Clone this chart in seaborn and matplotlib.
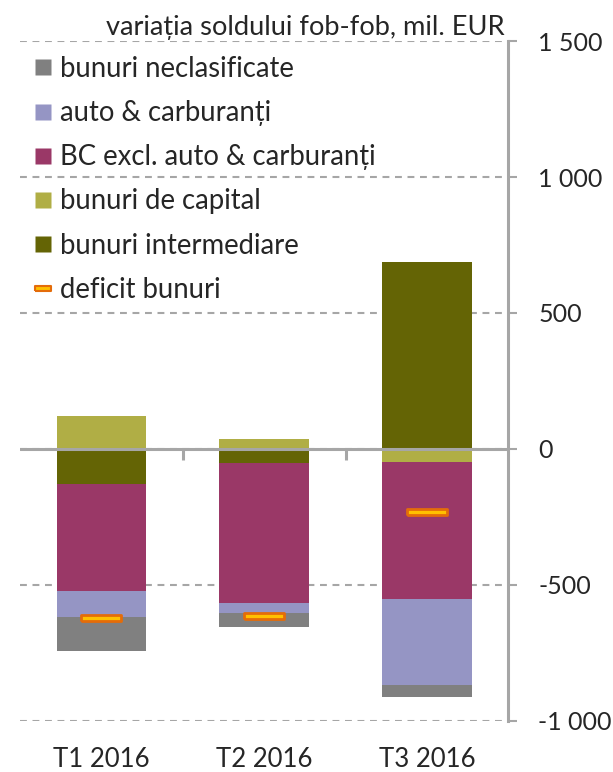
import numpy as np
import pandas as pd
import matplotlib.pyplot as plt
import seaborn as sns
from matplotlib.lines import Line2D
from matplotlib.ticker import FuncFormatter

# date (mil. EUR)
quarters = ["T1 2016", "T2 2016", "T3 2016"]
intermediare = [-129, -51, 687]
capital = [120, 38, -49]
bc_excl_auto = [-394, -517, -503]
auto_carburanti = [-96, -37, -317]
neclasificate = [-123, -49, -43]
deficit = [-621, -614, -231]

series_names = ["bunuri intermediare", "bunuri de capital",
                "BC excl. auto & carburanți", "auto & carburanți",
                "bunuri neclasificate"]
series_values = [intermediare, capital, bc_excl_auto, auto_carburanti, neclasificate]
colors = ["#646405", "#B0AE45", "#9A3867", "#9595C4", "#808080"]
legend_order = [4, 3, 2, 1, 0]
y_ticks = [-1000, -500, 0, 500, 1000, 1500]

sns.set_style("white")
plt.rcParams["font.family"] = ["Lato", "DejaVu Sans"]

grid_gray = "#A6A6A6"
fig = plt.figure(figsize=(6.13, 7.72), dpi=100)
ax = fig.add_axes([0.0326, 0.0665, 0.7966, 0.8801])

# stivuire separata pentru valori pozitive si negative
pos_base = np.zeros(len(quarters))
neg_base = np.zeros(len(quarters))
for name, vals, col in zip(series_names, series_values, colors):
    vals = np.array(vals, dtype=float)
    bottom = np.where(vals >= 0, pos_base, neg_base)
    df = pd.DataFrame({"trimestru": quarters, "valoare": vals})
    sns.barplot(data=df, x="trimestru", y="valoare", order=quarters, bottom=bottom,
                color=col, width=0.55, errorbar=None, linewidth=0, saturation=1,
                ax=ax, zorder=2)
    pos_base = np.where(vals >= 0, pos_base + vals, pos_base)
    neg_base = np.where(vals < 0, neg_base + vals, neg_base)

# deficitul de bunuri - marcaj dreptunghiular
rect = [(-1, -0.17), (1, -0.17), (1, 0.17), (-1, 0.17), (-1, -0.17)]
sns.scatterplot(x=np.arange(len(quarters)), y=deficit, marker=rect, s=841,
                color="#FFC000", edgecolor="#E46C0A", linewidth=2, zorder=5, ax=ax)

# axa zero si separatoarele de categorii
ax.axhline(0, color=grid_gray, lw=2.2, zorder=4)
ax.vlines([0.5, 1.5], -40, 0, color=grid_gray, lw=2.2, zorder=4)

ax.set_xlim(-0.5, 2.5)
ax.set_ylim(-1000, 1500)
ax.set_yticks(y_ticks)
ax.yaxis.set_major_formatter(FuncFormatter(lambda v, p: f"{v:,.0f}".replace(",", " ")))
ax.yaxis.tick_right()
ax.set_xlabel("")
ax.set_ylabel("")

ax.set_axisbelow(True)
ax.yaxis.grid(True, color=grid_gray, lw=1.5, ls=(0, (3.3, 2.7)))
ax.xaxis.grid(False)

for s in ["top", "left", "bottom"]:
    ax.spines[s].set_visible(False)
ax.spines["right"].set_color(grid_gray)
ax.spines["right"].set_linewidth(2.2)

ax.tick_params(axis="y", right=True, left=False, direction="out", length=6.5,
               width=1.5, color=grid_gray, pad=15, labelsize=18)
ax.tick_params(axis="x", length=0, pad=19, labelsize=18.5)

handles = [Line2D([], [], ls="none", marker="s", markersize=11.5, color=colors[i],
                  mec="none") for i in legend_order]
labels = [series_names[i] for i in legend_order]
handles.append(Line2D([], [], ls="none", marker=[(-1, -0.3), (1, -0.3), (1, 0.3), (-1, 0.3), (-1, -0.3)],
                      markersize=12, mfc="#FFC000", mec="#E46C0A", mew=1.5))
labels.append("deficit bunuri")
ax.legend(handles, labels, loc="upper left", bbox_to_anchor=(33 / 613, 1 - 56 / 772),
          bbox_transform=fig.transFigure, frameon=False, fontsize=19.8,
          handlelength=0.74, handletextpad=0.26, labelspacing=0.66,
          borderaxespad=0, borderpad=0)

fig.text(505 / 613, 1 - 35 / 772, "variația soldului fob-fob, mil. EUR",
         ha="right", va="baseline", fontsize=19.6)

fig.savefig("out.png", dpi=100)
